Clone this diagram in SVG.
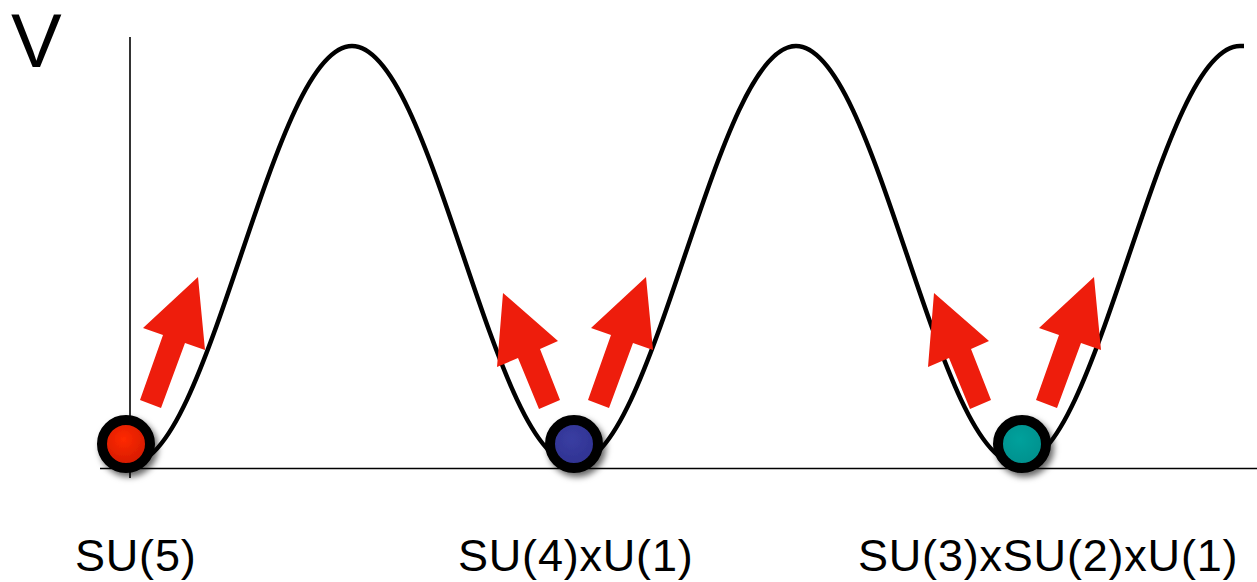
<svg xmlns="http://www.w3.org/2000/svg" width="1257" height="582" viewBox="0 0 1257 582">
<style>
.axis{stroke:#000;stroke-width:1.6;fill:none}
.curve{stroke:#000;stroke-width:4.5;fill:none;stroke-linejoin:round}
.arrow{fill:#ee1d0c;stroke:none}
.ring{stroke:#000;stroke-width:10}
.lbl{font-family:"Liberation Sans",Arial,sans-serif;font-size:45px;letter-spacing:0.8px;fill:#000}
</style>
<defs>
<filter id="sh" x="-50%" y="-50%" width="200%" height="200%">
<feDropShadow dx="3" dy="4" stdDeviation="3" flood-color="#000" flood-opacity="0.6"/>
</filter>
<radialGradient id="gr" cx="0.45" cy="0.4" r="0.6"><stop offset="0" stop-color="#ff2a00"/><stop offset="1" stop-color="#d01800"/></radialGradient>
<radialGradient id="gb" cx="0.45" cy="0.4" r="0.6"><stop offset="0" stop-color="#3a3ea2"/><stop offset="1" stop-color="#2e3190"/></radialGradient>
<radialGradient id="gt" cx="0.45" cy="0.4" r="0.6"><stop offset="0" stop-color="#00a19c"/><stop offset="1" stop-color="#008f8c"/></radialGradient>
<polygon id="arR" points="198,277 205,350 185,343 161,408 140,400 163,335 143,328"/>
<polygon id="arL" points="503,293 558,341 540,349 560,400 539,409 518,358 497,367"/>
</defs>
<g id="axes">
<line class="axis" x1="130" y1="37" x2="130" y2="478"/>
<line class="axis" x1="100" y1="468.5" x2="1257" y2="468.5"/>
</g>
<g id="potential">
<path class="curve" d="M130,464 C170.2,464 204.8,362.1 241,255 C277.2,147.9 311.8,46 352,46 C392.2,46 426.8,147.9 463,255 C499.2,362.1 533.8,464 574,464 C614.2,464 648.8,362.1 685,255 C721.2,147.9 755.8,46 796,46 C836.2,46 870.8,147.9 907,255 C943.2,362.1 977.8,464 1018,464 C1058.2,464 1092.8,362.1 1129,255 C1165.2,147.9 1199.8,46 1240,46 L1244,46"/>
</g>
<g id="connectors">
<use href="#arR" class="arrow"/>
<use href="#arL" class="arrow"/>
<use href="#arR" class="arrow" transform="translate(448,0)"/>
<use href="#arL" class="arrow" transform="translate(431,0)"/>
<use href="#arR" class="arrow" transform="translate(896,0)"/>
</g>
<g id="ball-su5">
<circle class="ring" cx="126" cy="444" r="24" fill="url(#gr)" filter="url(#sh)"/>
</g>
<g id="ball-su4u1">
<circle class="ring" cx="574" cy="444" r="24" fill="url(#gb)" filter="url(#sh)"/>
</g>
<g id="ball-su3su2u1">
<circle class="ring" cx="1022" cy="444" r="24" fill="url(#gt)" filter="url(#sh)"/>
</g>
<g id="labels">
<text x="11" y="67" style="font-family:'Liberation Sans',Arial,sans-serif;font-size:76px">V</text>
<text class="lbl" x="75" y="571">SU(5)</text>
<text class="lbl" x="458" y="571">SU(4)xU(1)</text>
<text class="lbl" x="858" y="571">SU(3)xSU(2)xU(1)</text>
</g>
</svg>
